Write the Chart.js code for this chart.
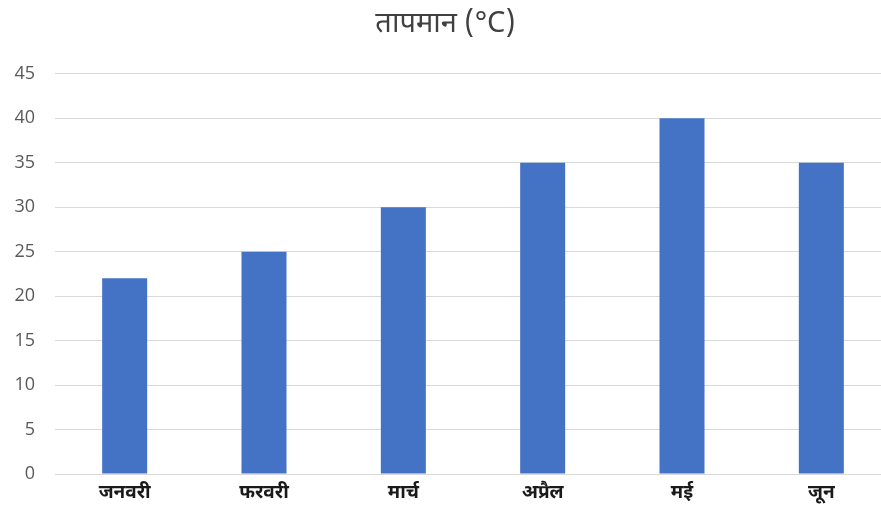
<!DOCTYPE html>
<html>
<head>
<meta charset="utf-8">
<script src="https://cdn.jsdelivr.net/npm/chart.js@4.4.1/dist/chart.umd.min.js"></script>
<style>
  html, body { margin: 0; padding: 0; background: #ffffff; overflow: hidden; }
  #wrap { width: 891px; height: 510px; position: relative; }
</style>
</head>
<body>
<div id="wrap"><canvas id="c"></canvas></div>
<script>
const categories = ["जनवरी", "फरवरी", "मार्च", "अप्रैल", "मई", "जून"];
const temperatures = [22, 25, 30, 35, 40, 35];
const chartTitle = "तापमान (°C)";
const yMin = 0, yMax = 45, yStep = 5;

const devFont = "'Noto Sans Devanagari', 'Noto Sans', 'Lohit Devanagari', 'FreeSans', sans-serif";

new Chart(document.getElementById('c'), {
  type: 'bar',
  data: {
    labels: categories,
    datasets: [{
      label: chartTitle,
      data: temperatures,
      backgroundColor: '#4472C4',
      borderWidth: 0,
      barPercentage: 0.323,
      categoryPercentage: 1.0
    }]
  },
  options: {
    responsive: true,
    maintainAspectRatio: false,
    animation: false,
    layout: { padding: { top: 0, right: 0, bottom: 0, left: 0 } },
    plugins: {
      legend: { display: false },
      tooltip: { enabled: false },
      title: {
        display: true,
        text: chartTitle,
        color: '#404040',
        font: { family: devFont, size: 29, weight: 'normal', lineHeight: 1.2 },
        padding: { top: 9, bottom: 30 }
      }
    },
    scales: {
      x: {
        grid: { display: false, drawTicks: false },
        border: { display: true, color: '#d9d9d9', width: 1 },
        ticks: {
          color: '#1a1a1a',
          font: { family: devFont, size: 19, weight: 'bold' },
          padding: 9,
          maxRotation: 0
        },
        afterFit: (s) => { s.height = 36; }
      },
      y: {
        min: yMin,
        max: yMax,
        grid: { color: '#d9d9d9', lineWidth: 1, drawTicks: false },
        border: { display: false },
        ticks: {
          stepSize: yStep,
          color: '#595959',
          font: { family: "'Open Sans', 'Noto Sans', sans-serif", size: 18 },
          padding: 20
        },
        afterFit: (s) => { s.width = 55; }
      }
    }
  }
});
</script>
</body>
</html>
